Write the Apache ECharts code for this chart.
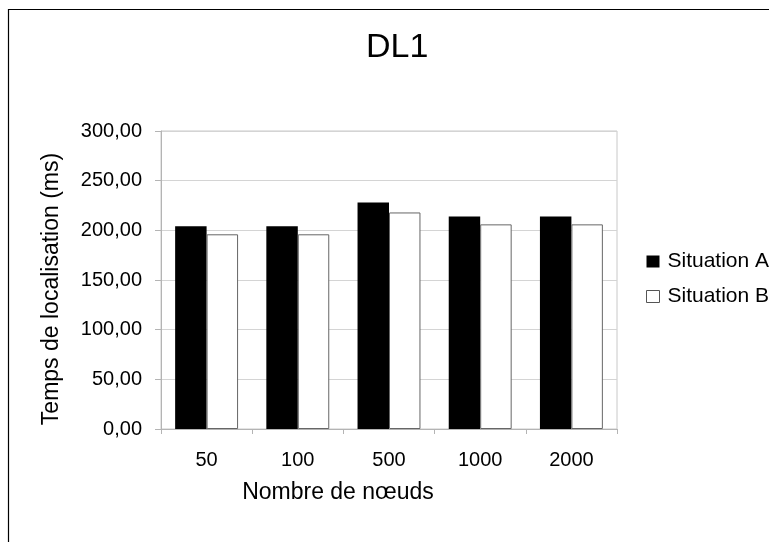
<!DOCTYPE html>
<html>
<head>
<meta charset="utf-8">
<script src="https://cdn.jsdelivr.net/npm/echarts@6/dist/echarts.min.js"></script>
<style>
html,body{margin:0;padding:0;background:#fff;}
#chart{width:769px;height:542px;}
</style>
</head>
<body>
<div id="chart"></div>
<script>
var categories = ['50', '100', '500', '1000', '2000'];
var situationA = [204, 204, 228, 214, 214];
var situationB = [196, 196, 218, 206, 206];
var yTicks = { min: 0, max: 300, interval: 50 };

var font = '"Liberation Sans", Arial, sans-serif';
var chart = echarts.init(document.getElementById('chart'), null, { renderer: 'canvas' });
chart.setOption({
  backgroundColor: '#ffffff',
  animation: false,
  textStyle: { fontFamily: font },
  graphic: [{
    type: 'rect',
    shape: { x: 8.5, y: 9.5, width: 800, height: 600 },
    style: { fill: 'none', stroke: '#000', lineWidth: 1.2 },
    silent: true
  }],
  title: {
    text: 'DL1',
    left: 366,
    top: 31,
    padding: 0,
    textStyle: { fontFamily: font, fontSize: 34, fontWeight: 'normal', color: '#000' }
  },
  legend: {
    orient: 'vertical',
    left: 646,
    top: 251,
    itemWidth: 13,
    itemHeight: 12,
    itemGap: 14,
    padding: 0,
    textStyle: { fontFamily: font, fontSize: 21, color: '#000', lineHeight: 20, padding: [0, 0, 0, 3] },
    data: [
      { name: 'Situation A', icon: 'rect', itemStyle: { color: '#000', borderColor: '#000', borderWidth: 0 } },
      { name: 'Situation B', icon: 'rect', itemStyle: { color: '#fff', borderColor: '#555', borderWidth: 1 } }
    ]
  },
  grid: {
    left: 161, top: 131, width: 456, height: 298,
    show: true, borderColor: '#c8c8c8', borderWidth: 1, backgroundColor: 'transparent',
    containLabel: false
  },
  xAxis: {
    type: 'category',
    data: categories,
    name: 'Nombre de nœuds',
    nameLocation: 'middle',
    nameGap: 52,
    nameTextStyle: { fontFamily: font, fontSize: 23, color: '#000', padding: [0, 102, 0, 0] },
    axisLine: { lineStyle: { color: '#b4b4b4', width: 1 } },
    axisTick: { show: true, alignWithLabel: false, length: 5, lineStyle: { color: '#b4b4b4' } },
    axisLabel: { fontFamily: font, fontSize: 20, color: '#000', margin: 21 },
    splitLine: { show: false }
  },
  yAxis: {
    type: 'value',
    min: yTicks.min, max: yTicks.max, interval: yTicks.interval,
    name: 'Temps de localisation (ms)',
    nameLocation: 'middle',
    nameGap: 98,
    nameTextStyle: { fontFamily: font, fontSize: 23, color: '#000', padding: [0, 18, 0, 0] },
    axisLine: { show: true, lineStyle: { color: '#b4b4b4', width: 1 } },
    axisTick: { show: true, length: 6, lineStyle: { color: '#b4b4b4' } },
    axisLabel: {
      fontFamily: font, fontSize: 20, color: '#000', margin: 19,
      formatter: function (v) { return v.toFixed(2).replace('.', ','); }
    },
    splitLine: { show: true, lineStyle: { color: '#d4d4d4', width: 1 } }
  },
  series: [
    {
      name: 'Situation A', type: 'bar', data: situationA,
      barWidth: '34.5%', barGap: '0%',
      itemStyle: { color: '#000', borderColor: '#000', borderWidth: 0 }
    },
    {
      name: 'Situation B', type: 'bar', data: situationB,
      barWidth: '34.5%', barGap: '0%',
      itemStyle: { color: '#fff', borderColor: '#666', borderWidth: 1 }
    }
  ]
});
</script>
</body>
</html>
